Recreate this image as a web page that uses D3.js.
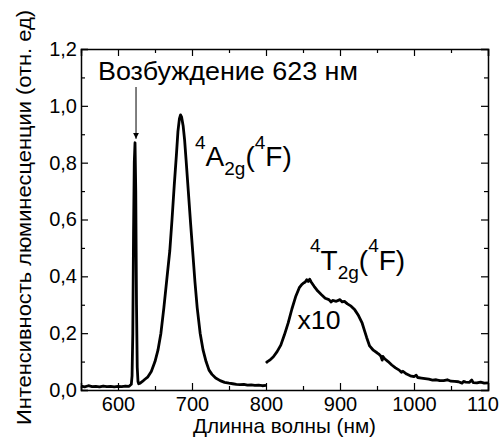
<!DOCTYPE html>
<html>
<head>
<meta charset="utf-8">
<script src="https://cdn.jsdelivr.net/npm/d3@7"></script>
<style>
  body { margin: 0; background: #fff; }
  svg { display: block; font-family: "Liberation Sans", Arial, sans-serif; }
  .axis path, .axis line { stroke: #000; }
</style>
</head>
<body>
<svg></svg>
<script>
const margin = {t: 49, r: 11, b: 49, l: 81};
const size = {w: 499, h: 439};

// spectrum under 623 nm excitation, 550-800 nm
const wl1 = [550, 555, 560, 565, 570, 575, 580, 585, 590, 595, 600, 605, 610, 615, 618,
  619, 620, 621, 622, 623, 624, 625, 626, 627, 628, 630, 633, 636, 640, 645, 650, 654,
  658, 662, 666, 670, 673, 676, 679, 681, 683, 684.5, 686, 688, 690, 692, 695, 698, 701,
  704, 707, 711, 715, 719, 723, 727, 732, 738, 744, 750, 755, 760, 765, 770, 775, 780,
  785, 790, 795, 800];
const int1 = [0.014, 0.011, 0.015, 0.012, 0.013, 0.011, 0.014, 0.012, 0.013, 0.011, 0.013, 0.012, 0.014, 0.013, 0.02,
  0.05, 0.2, 0.55, 0.8, 0.87, 0.7, 0.3, 0.08, 0.03, 0.022, 0.024, 0.03, 0.037, 0.045, 0.065, 0.1, 0.14,
  0.2, 0.29, 0.39, 0.49, 0.6, 0.72, 0.83, 0.91, 0.955, 0.968, 0.96, 0.93, 0.88, 0.81, 0.7, 0.59, 0.485,
  0.38, 0.29, 0.2, 0.14, 0.1, 0.07, 0.055, 0.042, 0.033, 0.027, 0.024, 0.022, 0.02, 0.019, 0.02, 0.017, 0.018,
  0.016, 0.017, 0.015, 0.016];

// 4T2g band, multiplied by 10, 800-1100 nm
const wl2 = [800, 802, 805, 810, 815, 820, 825, 830, 835, 840, 845, 848, 850, 853, 855, 857,
  859, 861, 865, 870, 875, 880, 885, 888, 890, 895, 900, 903, 906, 910, 915, 920, 925, 930,
  933, 936, 940, 945, 950, 953, 955, 957, 958, 960, 965, 970, 975, 980, 983, 985, 990, 995,
  1000, 1003, 1005, 1010, 1015, 1020, 1025, 1030, 1035, 1040, 1045, 1050, 1055, 1060, 1065,
  1067, 1070, 1075, 1078, 1080, 1085, 1090, 1095, 1100];
const int2 = [0.095, 0.1, 0.105, 0.117, 0.135, 0.158, 0.195, 0.236, 0.285, 0.328, 0.36, 0.37, 0.375, 0.38, 0.388, 0.382,
  0.39, 0.38, 0.365, 0.348, 0.335, 0.323, 0.318, 0.31, 0.315, 0.312, 0.318, 0.31, 0.312, 0.303, 0.295, 0.282, 0.262, 0.235,
  0.21, 0.185, 0.155, 0.14, 0.131, 0.125, 0.12, 0.105, 0.118, 0.111, 0.1, 0.088, 0.078, 0.07, 0.062, 0.066, 0.056, 0.05,
  0.047, 0.052, 0.044, 0.042, 0.04, 0.038, 0.035, 0.036, 0.033, 0.033, 0.036, 0.031, 0.03, 0.029, 0.024,
  0.03, 0.028, 0.027, 0.035, 0.026, 0.025, 0.028, 0.024, 0.025];

const xMajor = [600, 700, 800, 900, 1000, 1100];
const xMinor = [550, 650, 750, 850, 950, 1050];
const yMajor = [0, 0.2, 0.4, 0.6, 0.8, 1.0, 1.2];
const yMinor = [0.1, 0.3, 0.5, 0.7, 0.9, 1.1];

const svg = d3.select('svg').attr('width', size.w).attr('height', size.h);

const x = d3.scaleLinear().domain([550, 1100]).range([margin.l, size.w - margin.r]);
const y = d3.scaleLinear().domain([0, 1.2]).range([size.h - margin.b, margin.t]);

const fmt = d => d3.format('.1f')(d).replace('.', ',');

// axes: ticks pointing inwards, minor ticks shorter
function drawAxis(axisFn, scale, transform, major, minor, labels, pad) {
  let g = svg.append('g').attr('class', 'axis').attr('transform', transform);
  g.call(axisFn(scale).tickValues(major).tickSize(-7).tickPadding(pad || 0)
      .tickFormat(labels ? labels : ''))
    .call(a => a.select('.domain').attr('stroke-width', 1.5));
  g.selectAll('.tick line').attr('stroke-width', 1.2);
  g.selectAll('.tick text').attr('font-size', 20).attr('fill', '#000')
    .attr('font-family', '"Liberation Sans", Arial, sans-serif');
  let gm = svg.append('g').attr('class', 'axis').attr('transform', transform);
  gm.call(axisFn(scale).tickValues(minor).tickSize(-4).tickFormat(''))
    .call(a => a.select('.domain').remove());
  gm.selectAll('.tick line').attr('stroke-width', 1.2);
  return g;
}

const y0 = size.h - margin.b, x1 = size.w - margin.r;
drawAxis(d3.axisBottom, x, `translate(0,${y0})`, xMajor, xMinor, d => d, 7);
drawAxis(d3.axisTop, x, `translate(0,${margin.t})`, xMajor, xMinor, null);
drawAxis(d3.axisLeft, y, `translate(${margin.l},0)`, yMajor, yMinor, fmt, 4);
drawAxis(d3.axisRight, y, `translate(${x1},0)`, yMajor, yMinor, null);

// spectra
const line = d3.line().x(d => x(d[0])).y(d => y(d[1]));
const spectra = [d3.zip(wl1, int1), d3.zip(wl2, int2)];
svg.append('g').selectAll('path')
  .data(spectra)
  .join('path')
  .attr('d', line)
  .attr('fill', 'none')
  .attr('stroke', '#000')
  .attr('stroke-width', 2.8)
  .attr('stroke-linejoin', 'round');

// excitation arrow
svg.append('defs').append('marker')
  .attr('id', 'head').attr('viewBox', '0 0 6 12')
  .attr('refX', 6).attr('refY', 6)
  .attr('markerWidth', 6).attr('markerHeight', 12)
  .attr('markerUnits', 'userSpaceOnUse')
  .attr('orient', 'auto')
  .append('path').attr('d', 'M0,3 L6,6 L0,9 Z').attr('fill', '#000');
svg.append('line')
  .attr('x1', x(623) + 1).attr('x2', x(623) + 1)
  .attr('y1', 87).attr('y2', y(0.87) - 4)
  .attr('stroke', '#000').attr('stroke-width', 1)
  .attr('marker-end', 'url(#head)');

svg.append('text')
  .attr('x', 98).attr('y', 80)
  .attr('font-size', 25)
  .attr('textLength', 260).attr('lengthAdjust', 'spacingAndGlyphs')
  .text('Возбуждение 623 нм');

// term labels with super/subscripts
function termLabel(px, py, letter) {
  let t = svg.append('text').attr('x', px).attr('y', py).attr('font-size', 28);
  t.append('tspan').attr('font-size', 19).attr('dy', -17.5).text('4');
  t.append('tspan').attr('dy', 17.5).text(letter);
  t.append('tspan').attr('font-size', 19).attr('dy', 9).text('2g');
  t.append('tspan').attr('dy', -9).text('(');
  t.append('tspan').attr('font-size', 19).attr('dy', -17.5).text('4');
  t.append('tspan').attr('dy', 17.5).text('F)');
}
termLabel(195, 166, 'A');
termLabel(310, 269.5, 'T');

svg.append('text')
  .attr('x', 297.5).attr('y', 329)
  .attr('font-size', 26)
  .attr('textLength', 43).attr('lengthAdjust', 'spacingAndGlyphs')
  .text('x10');

// axis titles
svg.append('text')
  .attr('x', (margin.l + x1) / 2).attr('y', 432.5)
  .attr('text-anchor', 'middle')
  .attr('font-size', 21)
  .attr('textLength', 183).attr('lengthAdjust', 'spacingAndGlyphs')
  .text('Длинна волны (нм)');

svg.append('text')
  .attr('transform', 'translate(30.5,217.5) rotate(-90)')
  .attr('text-anchor', 'middle')
  .attr('font-size', 21)
  .attr('textLength', 415).attr('lengthAdjust', 'spacingAndGlyphs')
  .text('Интенсивность люминесценции (отн. ед)');
</script>
</body>
</html>
